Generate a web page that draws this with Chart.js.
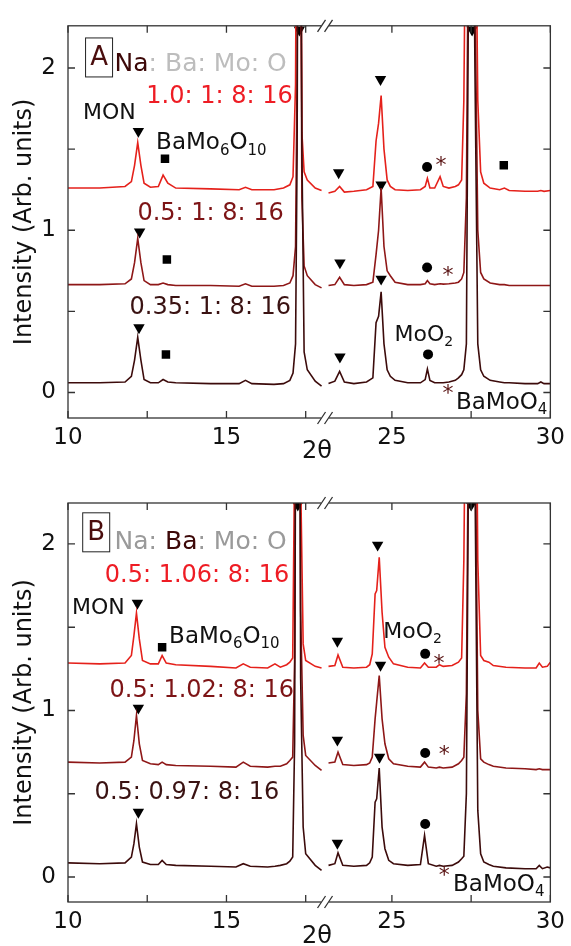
<!DOCTYPE html>
<html lang="en">
<head>
<meta charset="UTF-8">
<title>XRD Na-Ba-Mo-O</title>
<style>
  body { margin: 0; background: #fff; }
  .panel { position: absolute; left: 0; }
</style>
</head>
<body>
<canvas id="chartA" class="panel" width="571" height="470" style="top:0"></canvas>
<canvas id="chartB" class="panel" width="571" height="476" style="top:470px"></canvas>
<script src="https://cdn.jsdelivr.net/npm/chart.js@4.4.0/dist/chart.umd.min.js"></script>
<script>
// ---------- data ----------
const xTickVals = [10, 12.5, 15, 17.5, 25, 27.5, 30];
const xTickLabels = ['10', '', '15', '', '25', '', '30'];
const yTickVals = [0, 0.5, 1, 1.5, 2];
const yTickLabels = ['0', '', '1', '', '2'];

// panel A : Na series (2theta grid, null = axis break)
const thetaA = [10, 11, 11.8, 12.0, 12.1, 12.2, 12.3, 12.4, 12.6, 12.85,
  13.0, 13.15, 13.4, 14.5, 15.4, 15.6, 15.8, 16.5, 16.8, 17.0,
  17.1, 17.18, 17.23, 17.28, 17.33, 17.38, 17.45, 17.55, 17.8, 18.0,
  20.5, 23.0, 23.2, 23.35, 23.5, 23.8, 24.2, 24.4, 24.5, 24.58,
  24.66, 24.75, 24.85, 24.95, 25.1, 25.5, 25.9, 26.05, 26.12, 26.2,
  26.35, 26.52, 26.62, 26.8, 27.0, 27.1, 27.2, 27.27, 27.35, 27.49,
  27.62, 27.71, 27.8, 27.9, 28.1, 28.4, 28.55, 28.7, 29.2, 29.6,
  29.7, 29.8, 30];
const na10 = [1.26, 1.26, 1.27, 1.30, 1.40, 1.54, 1.40, 1.29, 1.265, 1.27,
  1.34, 1.29, 1.26, 1.255, 1.25, 1.265, 1.25, 1.25, 1.26, 1.28,
  1.33, 1.9, 4, 5, 4, 1.6, 1.36, 1.31, 1.26, 1.245,
  null, 1.23, 1.24, 1.27, 1.235, 1.24, 1.25, 1.27, 1.55, 1.66,
  1.83, 1.5, 1.31, 1.27, 1.25, 1.245, 1.25, 1.27, 1.32, 1.26,
  1.26, 1.33, 1.27, 1.26, 1.27, 1.28, 1.31, 1.8, 3.5, 5,
  3.5, 1.8, 1.36, 1.29, 1.26, 1.25, 1.26, 1.245, 1.24, 1.24,
  1.245, 1.24, 1.245];
const na05 = [0.665, 0.665, 0.67, 0.70, 0.80, 0.95, 0.80, 0.69, 0.665, 0.665,
  0.675, 0.665, 0.66, 0.66, 0.655, 0.67, 0.655, 0.655, 0.66, 0.675,
  0.72, 0.9, 2.0, 5, 3.5, 1.2, 0.78, 0.72, 0.665, 0.645,
  null, 0.66, 0.665, 0.71, 0.665, 0.66, 0.665, 0.68, 0.85, 1.0,
  1.26, 0.9, 0.75, 0.72, 0.68, 0.665, 0.665, 0.67, 0.69, 0.67,
  0.665, 0.67, 0.668, 0.67, 0.675, 0.68, 0.70, 0.74, 1.2, 5,
  2.5, 1.0, 0.74, 0.70, 0.675, 0.665, 0.665, 0.66, 0.66, 0.66,
  0.66, 0.66, 0.66];
const na035 = [0.06, 0.06, 0.065, 0.10, 0.20, 0.34, 0.20, 0.08, 0.06, 0.06,
  0.08, 0.065, 0.06, 0.055, 0.055, 0.075, 0.055, 0.05, 0.055, 0.075,
  0.12, 0.3, 1.5, 5, 4, 1.5, 0.25, 0.14, 0.07, 0.04,
  null, 0.055, 0.07, 0.13, 0.065, 0.055, 0.065, 0.09, 0.43, 0.47,
  0.62, 0.30, 0.14, 0.10, 0.075, 0.06, 0.06, 0.08, 0.145, 0.075,
  0.06, 0.06, 0.06, 0.065, 0.075, 0.09, 0.11, 0.14, 0.3, 5,
  2, 0.3, 0.14, 0.10, 0.075, 0.065, 0.06, 0.06, 0.055, 0.055,
  0.065, 0.055, 0.055];

// panel B : Ba series
const thetaB = [10, 11, 11.8, 12.0, 12.08, 12.16, 12.25, 12.35, 12.6, 12.85,
  12.97, 13.1, 13.4, 14.5, 15.3, 15.53, 15.75, 16.3, 16.53, 16.7,
  16.9, 17.0, 17.09, 17.15, 17.22, 17.29, 17.34, 17.42, 17.5, 17.8, 18.0,
  20.5, 23.0, 23.2, 23.3, 23.45, 23.8, 24.2, 24.3, 24.38, 24.47, 24.52,
  24.6, 24.69, 24.78, 24.9, 25.05, 25.5, 25.9, 26.03, 26.15, 26.4,
  26.5, 26.62, 26.9, 27.1, 27.2, 27.27, 27.35, 27.5, 27.64, 27.71,
  27.8, 27.9, 28.06, 28.2, 28.6, 29.2, 29.55, 29.65, 29.75, 29.9, 30];
const ba106 = [1.285, 1.28, 1.285, 1.33, 1.45, 1.585, 1.43, 1.30, 1.28, 1.28,
  1.33, 1.285, 1.275, 1.265, 1.255, 1.28, 1.26, 1.255, 1.28, 1.26,
  1.275, 1.29, 1.315, 2.5, 5, 3, 2.4, 1.4, 1.30, 1.265, 1.255,
  null, 1.265, 1.27, 1.333, 1.26, 1.255, 1.26, 1.275, 1.34, 1.70, 1.72,
  1.92, 1.59, 1.38, 1.32, 1.28, 1.26, 1.255, 1.285, 1.26, 1.26,
  1.275, 1.265, 1.27, 1.29, 1.315, 1.9, 3.5, 5, 3.5, 1.9,
  1.33, 1.30, 1.29, 1.27, 1.26, 1.255, 1.255, 1.285, 1.26, 1.265, 1.29];
const ba102 = [0.69, 0.685, 0.69, 0.72, 0.82, 0.97, 0.80, 0.70, 0.68, 0.675,
  0.69, 0.675, 0.67, 0.665, 0.66, 0.69, 0.665, 0.66, 0.665, 0.665,
  0.68, 0.70, 0.72, 1.3, 5, 4, 1.6, 0.85, 0.73, 0.67, 0.64,
  null, 0.685, 0.69, 0.75, 0.675, 0.67, 0.675, 0.685, 0.72, 0.95, 1.05,
  1.21, 0.95, 0.80, 0.71, 0.68, 0.665, 0.66, 0.69, 0.66, 0.655,
  0.66, 0.655, 0.66, 0.68, 0.70, 0.72, 1.1, 5, 2.5, 1.0,
  0.71, 0.69, 0.675, 0.665, 0.655, 0.65, 0.645, 0.65, 0.645, 0.645, 0.645];
const ba097 = [0.085, 0.08, 0.085, 0.12, 0.20, 0.32, 0.18, 0.09, 0.075, 0.075,
  0.10, 0.075, 0.07, 0.065, 0.06, 0.08, 0.065, 0.06, 0.065, 0.07,
  0.08, 0.095, 0.12, 0.8, 5, 5, 1.2, 0.3, 0.14, 0.07, 0.04,
  null, 0.07, 0.08, 0.145, 0.07, 0.065, 0.07, 0.085, 0.12, 0.45, 0.47,
  0.655, 0.30, 0.17, 0.10, 0.08, 0.07, 0.075, 0.25, 0.08, 0.065,
  0.07, 0.065, 0.07, 0.09, 0.11, 0.125, 0.5, 5, 2, 0.4,
  0.14, 0.09, 0.075, 0.065, 0.055, 0.05, 0.05, 0.07, 0.05, 0.06, 0.055];

// phase markers [2theta, intensity]
const monA = [[12.22, 1.61], [12.26, 0.99], [12.24, 0.40], [17.3, 2.235], [27.53, 2.235],
  [23.32, 1.355], [24.64, 1.93], [23.36, 0.80], [24.66, 1.28], [23.36, 0.22], [24.66, 0.70]];
const bamo6A = [[13.06, 1.44], [13.12, 0.82], [13.09, 0.235], [28.53, 1.40]];
const moo2A = [[26.11, 1.39], [26.11, 0.77], [26.14, 0.235]];
const bamoo4A = [[26.55, 1.415], [26.77, 0.735], [26.77, 0.012]];

const monB = [[12.19, 1.645], [12.22, 1.015], [12.22, 0.39], [17.25, 2.234], [27.5, 2.234],
  [23.28, 1.417], [24.55, 1.994], [23.28, 0.823], [24.64, 1.273], [23.28, 0.204], [24.61, 0.72]];
const bamo6B = [[12.97, 1.38]];
const moo2B = [[26.05, 1.34], [26.05, 0.745], [26.05, 0.318]];
const bamoo4B = [[26.49, 1.30], [26.65, 0.75], [26.65, 0.024]];

// ---------- helpers ----------
const GAP = 0.22;               // width of the axis break
function tx(v) { return v <= 20 ? v : v - 5 + GAP; }

const RED = '#e5211b', MAROON = '#8e1717', DARK = '#3c0b0b';
const FONT = '"DejaVu Sans", sans-serif';

function series(theta, vals) {
  return theta.map((t, i) => ({x: tx(t), y: vals[i]}));
}
function pts(list) {
  return list.map(p => ({x: tx(p[0]), y: p[1]}));
}

function drawRuns(ctx, x, y, runs, size) {
  ctx.textAlign = 'left';
  ctx.textBaseline = 'middle';
  runs.forEach(r => {
    const s = r.sub ? Math.round(size * 0.65) : size;
    ctx.font = s + 'px ' + FONT;
    ctx.fillStyle = r.c || '#111';
    ctx.fillText(r.t, x, r.sub ? y + size * 0.32 : y);
    x += ctx.measureText(r.t).width;
  });
}

function decoPlugin(cfg) {
  return {
    id: 'deco',
    afterDraw(chart) {
      const ctx = chart.ctx, a = chart.chartArea;
      const sx = chart.scales.x, sy = chart.scales.y;
      const px = v => sx.getPixelForValue(tx(v));
      const py = v => sy.getPixelForValue(v);
      ctx.save();

      // frame + inward ticks on all four sides
      ctx.strokeStyle = '#333';
      ctx.lineWidth = 1.3;
      ctx.strokeRect(a.left, a.top, a.right - a.left, a.bottom - a.top);
      ctx.beginPath();
      xTickVals.forEach(v => {
        const x = px(v);
        ctx.moveTo(x, a.bottom); ctx.lineTo(x, a.bottom - 7);
        ctx.moveTo(x, a.top); ctx.lineTo(x, a.top + 7);
      });
      yTickVals.forEach(v => {
        const y = py(v);
        ctx.moveTo(a.left, y); ctx.lineTo(a.left + 7, y);
        ctx.moveTo(a.right, y); ctx.lineTo(a.right - 7, y);
      });
      ctx.stroke();

      // axis break "//"
      const bx = (px(18) + px(23)) / 2;
      [a.top, a.bottom].forEach(y => {
        ctx.fillStyle = '#fff';
        ctx.fillRect(bx - 4, y - 2, 8, 4);
        ctx.beginPath();
        [-3.5, 3.5].forEach(d => {
          ctx.moveTo(bx + d - 4, y + 6);
          ctx.lineTo(bx + d + 4, y - 6);
        });
        ctx.stroke();
      });

      // panel letter box
      const b = cfg.box;
      ctx.lineWidth = 1;
      ctx.strokeStyle = '#222';
      ctx.strokeRect(px(b.x) - 13.5, py(b.y) - 19.5, 27, 39);
      ctx.font = '26px ' + FONT;
      ctx.fillStyle = '#4a0d0d';
      ctx.textAlign = 'center';
      ctx.textBaseline = 'middle';
      ctx.fillText(b.t, px(b.x), py(b.y) + 1);

      // text labels
      cfg.labels.forEach(l => drawRuns(ctx, px(l.x), py(l.y), l.runs, l.size));

      // BaMoO4 asterisks
      ctx.font = '22px ' + FONT;
      ctx.fillStyle = '#5a1414';
      ctx.textAlign = 'center';
      ctx.textBaseline = 'alphabetic';
      cfg.stars.forEach(p => ctx.fillText('*', px(p[0]), py(p[1]) + 9));

      // axis titles
      ctx.fillStyle = '#111';
      ctx.font = '24px ' + FONT;
      ctx.textAlign = 'center';
      ctx.textBaseline = 'middle';
      ctx.fillText('2θ', 317, cfg.xTitleY);
      ctx.translate(25, (a.top + a.bottom) / 2);
      ctx.rotate(-Math.PI / 2);
      ctx.fillText('Intensity (Arb. units)', 0, 0);
      ctx.restore();
    }
  };
}

function trace(data, color) {
  return {data: data, showLine: true, borderColor: color, borderWidth: 1.6,
          pointRadius: 0, tension: 0, spanGaps: false};
}
function marks(data, style, r, rot) {
  return {data: data, pointStyle: style, pointRadius: r, rotation: rot || 0,
          backgroundColor: '#000', borderWidth: 0, showLine: false};
}

function makeChart(id, p) {
  return new Chart(document.getElementById(id), {
    type: 'scatter',
    data: {
      datasets: [
        trace(p.s3, DARK), trace(p.s2, MAROON), trace(p.s1, RED),
        marks(pts(p.tri), 'triangle', 6.6, 180),
        marks(pts(p.sq), 'rect', 6),
        marks(pts(p.dot), 'circle', 5)
      ]
    },
    options: {
      responsive: false,
      animation: false,
      layout: {padding: {top: p.padTop, right: 16, left: 0, bottom: 0}},
      plugins: {legend: {display: false}, tooltip: {enabled: false}},
      scales: {
        x: {
          type: 'linear', min: 10, max: 25 + GAP,
          afterBuildTicks: s => { s.ticks = xTickVals.map(v => ({value: tx(v)})); },
          afterFit: s => { s.height = p.xAxisH; },
          grid: {display: false, drawTicks: false}, border: {display: false},
          ticks: {autoSkip: false, maxRotation: 0, padding: 6, color: '#111',
                  font: {family: FONT, size: 23},
                  callback: (v, i) => xTickLabels[i]}
        },
        y: {
          min: p.yMin, max: p.yMax,
          afterBuildTicks: s => { s.ticks = yTickVals.map(v => ({value: v})); },
          afterFit: s => { s.width = 68; },
          grid: {display: false, drawTicks: false}, border: {display: false},
          ticks: {padding: 12, color: '#111', font: {family: FONT, size: 23},
                  callback: (v, i) => yTickLabels[i]}
        }
      }
    },
    plugins: [decoPlugin(p.deco)]
  });
}

makeChart('chartA', {
  s1: series(thetaA, na10), s2: series(thetaA, na05), s3: series(thetaA, na035),
  tri: monA, sq: bamo6A, dot: moo2A,
  padTop: 17, xAxisH: 52, yMin: -0.157, yMax: 2.26,
  deco: {
    xTitleY: 452,
    box: {x: 10.98, y: 2.065, t: 'A'},
    stars: bamoo4A,
    labels: [
      {x: 11.47, y: 2.02, size: 25, runs: [{t: 'Na', c: '#3d0808'}, {t: ': Ba: Mo: O', c: '#bdbdbd'}]},
      {x: 12.47, y: 1.82, size: 24, runs: [{t: '1.0: 1: 8: 16', c: '#ee1c24'}]},
      {x: 10.47, y: 1.72, size: 22, runs: [{t: 'MON'}]},
      {x: 12.78, y: 1.536, size: 23, runs: [{t: 'BaMo'}, {t: '6', sub: true}, {t: 'O'}, {t: '10', sub: true}]},
      {x: 12.19, y: 1.10, size: 24, runs: [{t: '0.5: 1: 8: 16', c: '#7d1416'}]},
      {x: 11.94, y: 0.524, size: 24, runs: [{t: '0.35: 1: 8: 16', c: '#3a1212'}]},
      {x: 25.08, y: 0.355, size: 22, runs: [{t: 'MoO'}, {t: '2', sub: true}]},
      {x: 27.02, y: -0.066, size: 23, runs: [{t: 'BaMoO'}, {t: '4', sub: true}]}
    ]
  }
});

makeChart('chartB', {
  s1: series(thetaB, ba106), s2: series(thetaB, ba102), s3: series(thetaB, ba097),
  tri: monB, sq: bamo6B, dot: moo2B,
  padTop: 33, xAxisH: 44, yMin: -0.150, yMax: 2.246,
  deco: {
    xTitleY: 467,
    box: {x: 10.89, y: 2.07, t: 'B'},
    stars: bamoo4B,
    labels: [
      {x: 11.47, y: 2.01, size: 25, runs: [{t: 'Na: ', c: '#9a9a9a'}, {t: 'Ba', c: '#3d0808'}, {t: ': Mo: O', c: '#9a9a9a'}]},
      {x: 11.16, y: 1.81, size: 24, runs: [{t: '0.5: 1.06: 8: 16', c: '#ee1c24'}]},
      {x: 10.125, y: 1.615, size: 22, runs: [{t: 'MON'}]},
      {x: 13.19, y: 1.44, size: 23, runs: [{t: 'BaMo'}, {t: '6', sub: true}, {t: 'O'}, {t: '10', sub: true}]},
      {x: 11.31, y: 1.12, size: 24, runs: [{t: '0.5: 1.02: 8: 16', c: '#7d1416'}]},
      {x: 10.84, y: 0.505, size: 24, runs: [{t: '0.5: 0.97: 8: 16', c: '#3a1212'}]},
      {x: 24.73, y: 1.47, size: 22, runs: [{t: 'MoO'}, {t: '2', sub: true}]},
      {x: 26.93, y: -0.048, size: 23, runs: [{t: 'BaMoO'}, {t: '4', sub: true}]}
    ]
  }
});
</script>
</body>
</html>
